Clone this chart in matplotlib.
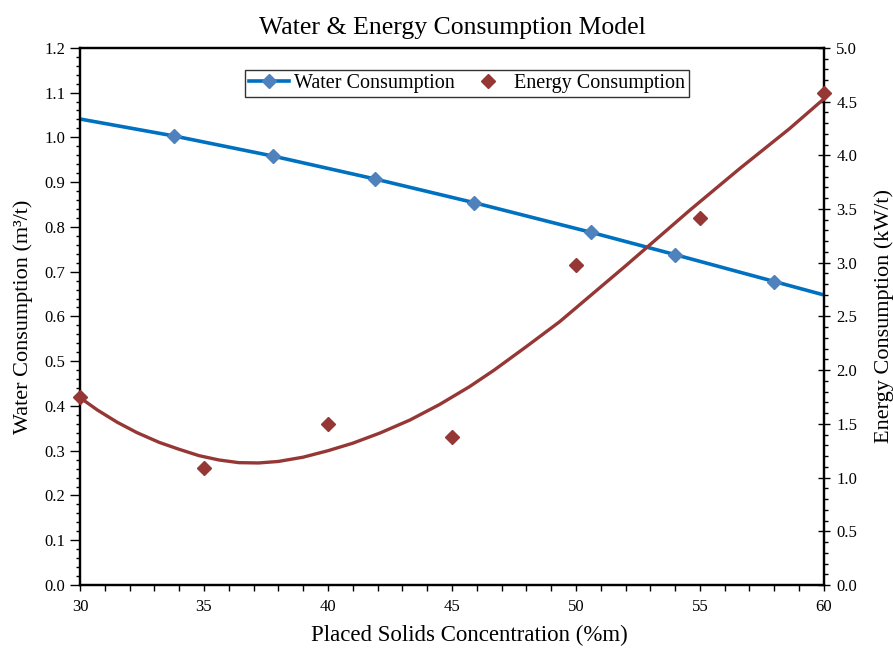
import matplotlib.pyplot as plt
from matplotlib.ticker import MultipleLocator

plt.rcParams["font.family"] = ["Liberation Serif", "DejaVu Serif"]

# water consumption (m3/t), left axis
water_x = [30, 33.8, 37.8, 41.9, 45.9, 50.6, 54.0, 58.0, 60]
water_y = [1.041, 1.003, 0.958, 0.907, 0.854, 0.788, 0.738, 0.678, 0.648]
water_marker_x = [33.8, 37.8, 41.9, 45.9, 50.6, 54.0, 58.0]
water_marker_y = [1.003, 0.958, 0.907, 0.854, 0.788, 0.738, 0.678]

# energy consumption (kW/t), right axis
energy_x = [30, 35, 40, 45, 50, 55, 60]
energy_y = [1.75, 1.09, 1.50, 1.375, 2.98, 3.42, 4.58]

# trend line
trend_x = [30, 30.7, 31.5, 32.3, 33.2, 34.0, 34.8, 35.6, 36.4, 37.2, 38.0,
           39.0, 40.0, 41.0, 42.1, 43.3, 44.5, 45.7, 46.7, 48.0, 49.35,
           50.7, 52.0, 53.1, 54.6, 56.6, 58.6, 60]
trend_y = [1.744, 1.629, 1.515, 1.418, 1.327, 1.263, 1.204, 1.164, 1.139,
           1.136, 1.15, 1.19, 1.25, 1.32, 1.415, 1.535, 1.68, 1.845, 2.0,
           2.219, 2.452, 2.716, 2.97, 3.19, 3.49, 3.875, 4.245, 4.525]

water_line = "#0070C0"
water_mark = "#4F81BD"
energy_col = "#953735"

fig = plt.figure(figsize=(8.93, 6.48), dpi=100)
ax = fig.add_axes([0.0896, 0.0972, 0.833, 0.829])
ax2 = ax.twinx()

ax.plot(water_x, water_y, color=water_line, lw=2.6, zorder=3)
ax.plot(water_marker_x, water_marker_y, ls="none", marker="D", ms=7,
        color=water_mark, zorder=4)
ax2.plot(trend_x, trend_y, color=energy_col, lw=2.4, zorder=3,
         solid_joinstyle="round")
ax2.plot(energy_x, energy_y, ls="none", marker="D", ms=7, color=energy_col,
         clip_on=False, zorder=4)

ax.set_xlim(30, 60)
ax.set_ylim(0, 1.2)
ax2.set_ylim(0, 5.0)
ax.xaxis.set_major_locator(MultipleLocator(5))
ax.xaxis.set_minor_locator(MultipleLocator(1))
ax.yaxis.set_major_locator(MultipleLocator(0.1))
ax.yaxis.set_minor_locator(MultipleLocator(0.02))
ax2.yaxis.set_major_locator(MultipleLocator(0.5))
ax2.yaxis.set_minor_locator(MultipleLocator(0.1))
ax.yaxis.set_major_formatter(lambda v, p: "%.1f" % v)
ax2.yaxis.set_major_formatter(lambda v, p: "%.1f" % v)

for a in (ax, ax2):
    for s in a.spines.values():
        s.set_linewidth(1.6)
ax.tick_params(axis="x", which="both", direction="out", length=4, width=1,
               labelsize=12, pad=6)
ax.tick_params(axis="y", which="major", direction="out", length=7, width=1,
               labelsize=12)
ax.tick_params(axis="y", which="minor", direction="out", length=3, width=1)
ax2.tick_params(axis="y", which="major", direction="inout", length=8, width=1,
                labelsize=12, pad=5)
ax2.tick_params(axis="y", which="minor", direction="out", length=3, width=1)

ax.set_xlabel("Placed Solids Concentration (%m)", fontsize=16.5)
ax.xaxis.set_label_coords(0.524, -0.075)
ax.set_ylabel("Water Consumption (m³/t)", fontsize=16, labelpad=8)
ax2.set_ylabel("Energy Consumption (kW/t)", fontsize=16, labelpad=12)
ax.set_title("Water & Energy Consumption Model", fontsize=18.5, pad=10)

h1 = ax.plot([], [], color=water_line, lw=2.6, marker="D", ms=7,
             mfc=water_mark, mec=water_mark)[0]
h2 = ax.plot([], [], ls="none", marker="D", ms=7, color=energy_col)[0]
leg = ax2.legend([h1, h2], ["Water Consumption", "Energy Consumption"],
                 loc="upper center", bbox_to_anchor=(0.52, 0.959), ncol=2,
                 fontsize=14.5, frameon=True, fancybox=False, borderpad=0.2,
                 handlelength=2.0, handletextpad=0.25, columnspacing=0.65,
                 borderaxespad=0)
leg.get_frame().set_edgecolor("black")
leg.get_frame().set_linewidth(1.0)

fig.savefig("out.png")
